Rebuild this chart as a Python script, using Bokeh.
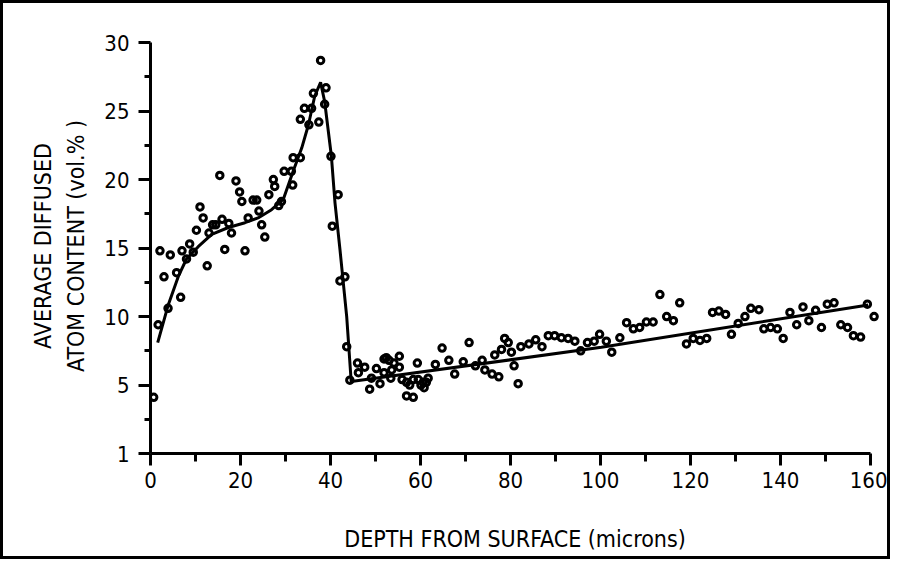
from bokeh.plotting import figure
from bokeh.models import FixedTicker, Range1d
from bokeh.embed import file_html
from bokeh.resources import INLINE

# measured points: depth (microns) and average diffused atom content (vol.%)
depth = [0.7, 1.7, 2.1, 3.0, 3.9, 4.4, 5.8, 6.7, 7.0, 8.0, 8.7, 9.5, 10.2, 11.0, 11.7,
         12.6, 13.0, 13.8, 14.5, 15.4, 15.9, 16.5, 17.4, 18.0, 19.0, 19.8, 20.3, 21.0,
         21.7, 22.8, 23.6, 24.1, 24.7, 25.4, 26.3, 27.3, 27.6, 28.5, 29.1, 29.7, 31.3,
         31.6, 31.7, 33.3, 33.3, 34.2, 35.2, 35.8, 36.2, 37.4, 37.8, 38.7, 39.0, 40.1,
         40.4, 41.7, 42.1, 43.2, 43.6, 44.3,
         46.0, 46.2, 47.6, 48.7, 49.1, 50.2, 51.0, 51.9, 51.9, 52.4, 53.0, 53.4, 53.6,
         54.1, 55.3, 55.3, 55.9, 56.9, 56.9, 57.6, 58.4, 58.4, 59.3, 59.5, 60.1, 60.6,
         60.8, 61.3, 61.7, 63.3, 64.8, 66.3, 67.6, 69.5, 70.8, 72.2, 73.7, 74.3, 75.9,
         76.5, 77.4, 78.0, 78.7, 79.5, 80.2, 80.8, 81.7, 82.3, 84.1, 85.6, 87.0, 88.4,
         89.8, 91.3, 92.8, 94.3, 95.6, 97.1, 98.6, 99.8, 101.3, 102.5, 104.3, 105.8,
         107.3, 108.7, 110.2, 111.7, 113.2, 114.7, 116.2, 117.6, 119.1, 120.6, 122.1,
         123.6, 124.9, 126.3, 127.8, 129.1, 130.6, 132.1, 133.4, 135.2, 136.3, 137.8,
         139.3, 140.6, 142.1, 143.6, 145.0, 146.3, 147.8, 149.1, 150.4, 151.9, 153.4,
         154.9, 156.2, 157.8, 159.3, 160.8]
content = [4.1, 9.4, 14.8, 12.9, 10.6, 14.5, 13.2, 11.4, 14.8, 14.2, 15.3, 14.7, 16.3, 18.0, 17.2,
           13.7, 16.1, 16.7, 16.7, 20.3, 17.1, 14.9, 16.8, 16.1, 19.9, 19.1, 18.4, 14.8,
           17.2, 18.5, 18.5, 17.7, 16.7, 15.8, 18.9, 20.0, 19.5, 18.1, 18.4, 20.6, 20.6,
           19.6, 21.6, 21.6, 24.4, 25.2, 24.0, 25.2, 26.3, 24.2, 28.7, 25.5, 26.7, 21.7,
           16.6, 18.9, 12.6, 12.9, 7.8, 5.35,
           6.6, 5.9, 6.3, 4.7, 5.5, 6.2, 5.1, 5.9, 6.9, 7.0, 6.8, 5.5, 6.1,
           6.6, 7.1, 6.3, 5.4, 5.2, 4.2, 5.0, 4.1, 5.4, 6.6, 5.4, 5.0, 5.2,
           4.8, 5.2, 5.5, 6.5, 7.7, 6.8, 5.8, 6.7, 8.1, 6.4, 6.8, 6.1, 5.8,
           7.2, 5.6, 7.6, 8.4, 8.1, 7.4, 6.4, 5.1, 7.8, 8.0, 8.3, 7.8, 8.6,
           8.6, 8.45, 8.4, 8.2, 7.5, 8.1, 8.2, 8.7, 8.2, 7.4, 8.45, 9.55,
           9.1, 9.2, 9.6, 9.6, 11.6, 10.0, 9.7, 11.0, 8.0, 8.4, 8.25,
           8.4, 10.3, 10.4, 10.15, 8.7, 9.5, 10.0, 10.6, 10.5, 9.1, 9.2,
           9.1, 8.4, 10.3, 9.4, 10.7, 9.7, 10.45, 9.2, 10.9, 11.0, 9.4,
           9.2, 8.6, 8.5, 10.9, 10.0]

# fitted curve
fit_depth = [1.6, 3.9, 6.2, 8.0, 10.6, 13.6, 17.3, 21.0, 23.9, 26.9, 29.5, 31.7, 33.6,
             35.1, 36.5, 37.8, 38.7, 40.2, 41.0, 42.1, 43.6, 44.6, 100.2, 159.5]
fit_content = [8.1, 10.8, 12.95, 14.2, 15.1, 16.0, 16.5, 16.85, 17.2, 17.8, 18.55, 20.6, 22.3,
               24.0, 26.1, 27.1, 25.7, 21.7, 18.3, 14.9, 10.0, 5.25, 7.75, 10.85]

x_ticks = [0, 20, 40, 60, 80, 100, 120, 140, 160]
x_minor_ticks = [10, 30, 50, 70, 90, 110, 130, 150]
y_ticks = [0, 5, 10, 15, 20, 25, 30]
y_minor_ticks = [2.5, 7.5, 12.5, 17.5, 22.5, 27.5]
y_label_overrides = {0: "1"}

x_title = "DEPTH FROM SURFACE (microns)"
y_title = "AVERAGE DIFFUSED\nATOM CONTENT (vol.% )"

FONT = "DejaVu Sans Condensed, DejaVu Sans"

p = figure(frame_width=729, frame_height=415,
           x_range=Range1d(0, 162), y_range=Range1d(0, 30.3),
           output_backend="svg", toolbar_location=None,
           min_border_left=147, min_border_right=8,
           min_border_top=35, min_border_bottom=103)
p.styles = {"border": "3px solid black"}
p.grid.visible = False
p.outline_line_color = None
p.background_fill_color = "white"
p.border_fill_color = "white"

p.line(fit_depth, fit_content, line_color="black", line_width=3)
p.scatter(depth, content, marker="circle", size=6.5, line_color="black",
          line_width=3, fill_color=None)

xa = p.xaxis[0]
ya = p.yaxis[0]
xa.ticker = FixedTicker(ticks=x_ticks, minor_ticks=x_minor_ticks)
ya.ticker = FixedTicker(ticks=y_ticks, minor_ticks=y_minor_ticks)
ya.major_label_overrides = y_label_overrides
xa.bounds = (0, 160)
ya.bounds = (0, 30)

for ax in (xa, ya):
    ax.axis_line_width = 3
    ax.axis_line_color = "black"
    ax.major_tick_line_width = 3
    ax.minor_tick_line_width = 3
    ax.major_tick_line_color = "black"
    ax.minor_tick_line_color = "black"
    ax.major_tick_in = 0
    ax.minor_tick_in = 0
    ax.major_tick_out = 12
    ax.major_label_text_font = FONT
    ax.major_label_text_font_size = "22px"
    ax.major_label_text_color = "black"
    ax.axis_label_text_font = FONT
    ax.axis_label_text_font_size = "23px"
    ax.axis_label_text_font_style = "normal"
    ax.axis_label_text_color = "black"

xa.minor_tick_out = 8
ya.minor_tick_out = 6
xa.major_label_standoff = 6
ya.major_label_standoff = 9
xa.axis_label = x_title
ya.axis_label = y_title
xa.axis_label_standoff = 35
ya.axis_label_standoff = 12
ya.axis_label_text_line_height = 1.3

open("out.html", "w").write(file_html(p, INLINE))
